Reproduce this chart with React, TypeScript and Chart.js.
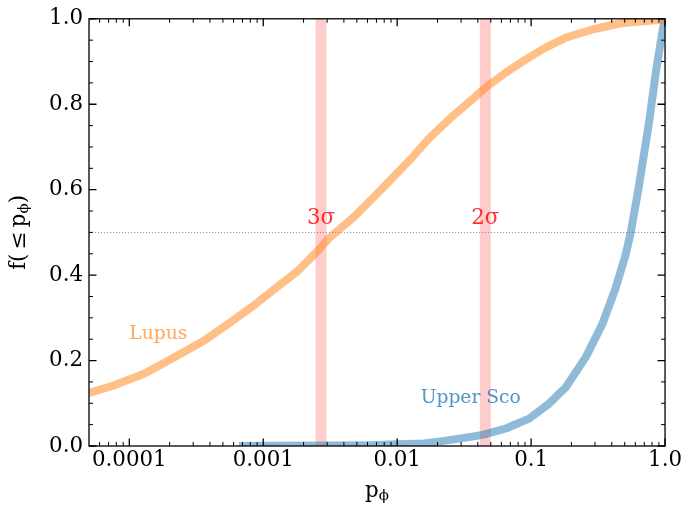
import React, { useEffect, useRef } from "react";
import { Chart, registerables } from "chart.js";

Chart.register(...registerables);

// ---------- data ----------
const lupusP = [5e-5, 7.7e-5, 1.29e-4, 2.17e-4, 3.63e-4, 5.42e-4, 8.1e-4, 1.21e-3, 1.8e-3, 2.54e-3, 3.11e-3, 4.63e-3, 6.55e-3, 9.2e-3, 0.013, 0.0173, 0.0259, 0.0365, 0.0459, 0.0647, 0.0912, 0.129, 0.182, 0.287, 0.454, 0.718, 0.955, 1.0];
const lupusF = [0.124, 0.142, 0.169, 0.208, 0.247, 0.285, 0.324, 0.367, 0.409, 0.456, 0.487, 0.533, 0.58, 0.627, 0.676, 0.72, 0.772, 0.812, 0.84, 0.874, 0.905, 0.933, 0.956, 0.975, 0.989, 0.995, 0.998, 1.0];

const uscoP = [6.6e-4, 1e-3, 3.16e-3, 6.3e-3, 0.01, 0.0158, 0.0224, 0.0316, 0.0434, 0.0647, 0.0966, 0.136, 0.182, 0.256, 0.34, 0.429, 0.508, 0.555, 0.64, 0.76, 0.853, 0.955, 1.0];
const uscoF = [0.0, 0.0005, 0.001, 0.002, 0.004, 0.006, 0.012, 0.019, 0.026, 0.041, 0.064, 0.099, 0.138, 0.208, 0.285, 0.371, 0.448, 0.5, 0.611, 0.758, 0.874, 0.97, 1.0];

const sigmaP = [0.0027, 0.0455];
const sigmaLabels = ["3σ", "2σ"];
const sigmaLabelY = 0.52;
const refLineY = 0.5;

const seriesNames = ["Lupus", "Upper Sco"];
const seriesLabelPos = [
  [1e-4, 0.25],
  [0.015, 0.1],
];

const xMin = 5e-5;
const xMax = 1.0;
const xMajor = [1e-4, 1e-3, 1e-2, 0.1, 1.0];
const xTickLabels = ["0.0001", "0.001", "0.01", "0.1", "1.0"];
const xMinor = [
  6e-5, 7e-5, 8e-5, 9e-5,
  2e-4, 3e-4, 4e-4, 5e-4, 6e-4, 7e-4, 8e-4, 9e-4,
  2e-3, 3e-3, 4e-3, 5e-3, 6e-3, 7e-3, 8e-3, 9e-3,
  0.02, 0.03, 0.04, 0.05, 0.06, 0.07, 0.08, 0.09,
  0.2, 0.3, 0.4, 0.5, 0.6, 0.7, 0.8, 0.9,
];
const yMajor = [0, 0.2, 0.4, 0.6, 0.8, 1.0];
const yTickLabels = ["0.0", "0.2", "0.4", "0.6", "0.8", "1.0"];
const yMinor = [0.05, 0.1, 0.15, 0.25, 0.3, 0.35, 0.45, 0.5, 0.55, 0.65, 0.7, 0.75, 0.85, 0.9, 0.95];

// ---------- styles ----------
const SERIF = '"DejaVu Serif", serif';
const TICK_SIZE = 21.33;
const ANN_SIZE = 18.67;
const SIGMA_SIZE = 21.33;
const ORANGE_LINE = "rgba(255,127,14,0.5)";
const BLUE_LINE = "rgba(31,119,180,0.5)";
const ORANGE_TEXT = "rgba(255,127,14,0.7)";
const BLUE_TEXT = "rgba(31,119,180,0.78)";

export default function App() {
  const ref = useRef<HTMLCanvasElement>(null);

  useEffect(() => {
    const canvas = ref.current;
    if (!canvas) return;

    const overlay = {
      id: "overlay",
      beforeDatasetsDraw(chart: any) {
        const { ctx, chartArea: a, scales } = chart;
        const x = scales.x;
        const y = scales.y;
        ctx.save();
        ctx.beginPath();
        ctx.rect(a.left, a.top, a.right - a.left, a.bottom - a.top);
        ctx.clip();
        // sigma bands
        ctx.strokeStyle = "rgba(255,0,0,0.2)";
        ctx.lineWidth = 11;
        sigmaP.forEach((p) => {
          const px = x.getPixelForValue(p);
          ctx.beginPath();
          ctx.moveTo(px, a.top);
          ctx.lineTo(px, a.bottom);
          ctx.stroke();
        });
        // dotted reference line
        const py = Math.round(y.getPixelForValue(refLineY)) + 0.5;
        ctx.strokeStyle = "rgba(120,120,120,0.75)";
        ctx.lineWidth = 1;
        ctx.setLineDash([1.2, 1.8]);
        ctx.beginPath();
        ctx.moveTo(a.left, py);
        ctx.lineTo(a.right, py);
        ctx.stroke();
        ctx.restore();
      },
      afterDatasetsDraw(chart: any) {
        const { ctx, scales } = chart;
        const x = scales.x;
        const y = scales.y;
        ctx.save();
        ctx.textBaseline = "alphabetic";
        // sigma labels
        ctx.font = `${SIGMA_SIZE}px ${SERIF}`;
        ctx.fillStyle = "rgba(255,0,0,0.8)";
        ctx.textAlign = "center";
        sigmaP.forEach((p, i) => {
          ctx.fillText(sigmaLabels[i], x.getPixelForValue(p), y.getPixelForValue(sigmaLabelY));
        });
        // series labels
        ctx.font = `${ANN_SIZE}px ${SERIF}`;
        ctx.textAlign = "left";
        const cols = [ORANGE_TEXT, BLUE_TEXT];
        seriesNames.forEach((n, i) => {
          ctx.fillStyle = cols[i];
          ctx.fillText(n, x.getPixelForValue(seriesLabelPos[i][0]), y.getPixelForValue(seriesLabelPos[i][1]));
        });
        ctx.restore();
      },
      afterDraw(chart: any) {
        const { ctx, chartArea: a, scales } = chart;
        const x = scales.x;
        const y = scales.y;
        ctx.save();
        // frame
        ctx.strokeStyle = "#000";
        ctx.lineWidth = 1.3;
        ctx.strokeRect(a.left, a.top, a.right - a.left, a.bottom - a.top);
        // ticks
        const MAJ = 7.5;
        const MIN = 4;
        const tickX = (vals: number[], len: number, lw: number) => {
          ctx.lineWidth = lw;
          vals.forEach((v) => {
            const px = x.getPixelForValue(v);
            ctx.beginPath();
            ctx.moveTo(px, a.bottom);
            ctx.lineTo(px, a.bottom - len);
            ctx.moveTo(px, a.top);
            ctx.lineTo(px, a.top + len);
            ctx.stroke();
          });
        };
        const tickY = (vals: number[], len: number, lw: number) => {
          ctx.lineWidth = lw;
          vals.forEach((v) => {
            const py = y.getPixelForValue(v);
            ctx.beginPath();
            ctx.moveTo(a.left, py);
            ctx.lineTo(a.left + len, py);
            ctx.moveTo(a.right, py);
            ctx.lineTo(a.right - len, py);
            ctx.stroke();
          });
        };
        tickX(xMajor, MAJ, 1.3);
        tickX(xMinor, MIN, 1);
        tickY(yMajor, MAJ, 1.3);
        tickY(yMinor, MIN, 1);

        // axis titles
        ctx.fillStyle = "#000";
        ctx.textBaseline = "alphabetic";
        ctx.textAlign = "left";
        const big = `${TICK_SIZE}px ${SERIF}`;
        const small = `15px ${SERIF}`;
        // x title
        ctx.font = big;
        const wp = ctx.measureText("p").width;
        ctx.font = small;
        const wphi = ctx.measureText("ϕ").width;
        const cx = (a.left + a.right) / 2;
        const sx = cx - (wp + wphi) / 2;
        ctx.font = big;
        ctx.fillText("p", sx, 497);
        ctx.font = small;
        ctx.fillText("ϕ", sx + wp, 500);

        // y title (rotated)
        const parts: [string, string, number][] = [
          ["f(", big, 0],
          ["\u2009≤\u2009", big, 0],
          ["p", big, 0],
          ["ϕ", small, 3],
          [")", big, 0],
        ];
        let total = 0;
        const widths = parts.map(([t, f]) => {
          ctx.font = f;
          const w = ctx.measureText(t).width;
          total += w;
          return w;
        });
        const cy = (a.top + a.bottom) / 2;
        ctx.translate(25, cy);
        ctx.rotate(-Math.PI / 2);
        let px = -total / 2;
        parts.forEach(([t, f, dy], i) => {
          ctx.font = f;
          ctx.fillText(t, px, dy);
          px += widths[i];
        });
        ctx.restore();
      },
    };

    const chart = new Chart(canvas, {
      type: "line",
      data: {
        datasets: [
          {
            label: seriesNames[0],
            data: lupusP.map((p, i) => ({ x: p, y: lupusF[i] })),
            borderColor: ORANGE_LINE,
            backgroundColor: ORANGE_LINE,
            borderWidth: 8,
            pointRadius: 0,
            borderJoinStyle: "round",
            tension: 0,
            clip: 0,
          },
          {
            label: seriesNames[1],
            data: uscoP.map((p, i) => ({ x: p, y: uscoF[i] })),
            borderColor: BLUE_LINE,
            backgroundColor: BLUE_LINE,
            borderWidth: 8,
            pointRadius: 0,
            borderJoinStyle: "round",
            tension: 0,
            clip: 0,
          },
        ],
      },
      options: {
        animation: false,
        responsive: false,
        devicePixelRatio: 1,
        layout: { padding: { top: 16, right: 18, left: 0, bottom: 0 }, autoPadding: false },
        plugins: { legend: { display: false }, tooltip: { enabled: false }, title: { display: false } },
        scales: {
          x: {
            type: "logarithmic",
            min: xMin,
            max: xMax,
            grid: { display: false, drawTicks: false },
            border: { display: false },
            afterFit: (s: any) => {
              s.height = 61;
            },
            afterBuildTicks: (s: any) => {
              s.ticks = xMajor.map((v) => ({ value: v }));
            },
            ticks: {
              autoSkip: false,
              maxRotation: 0,
              minRotation: 0,
              padding: 2,
              color: "#000",
              font: { family: SERIF, size: TICK_SIZE },
              callback: (_v: any, i: number) => xTickLabels[i],
            },
          },
          y: {
            type: "linear",
            min: 0,
            max: 1,
            grid: { display: false, drawTicks: false },
            border: { display: false },
            afterFit: (s: any) => {
              s.width = 89;
            },
            afterBuildTicks: (s: any) => {
              s.ticks = yMajor.map((v) => ({ value: v }));
            },
            ticks: {
              autoSkip: false,
              padding: 6,
              color: "#000",
              font: { family: SERIF, size: TICK_SIZE },
              callback: (_v: any, i: number) => yTickLabels[i],
            },
          },
        },
      } as any,
      plugins: [overlay],
    });

    return () => chart.destroy();
  }, []);

  return (
    <div style={{ position: "fixed", left: 0, top: 0, width: 684, height: 507, background: "#fff" }}>
      <canvas ref={ref} width={684} height={507} style={{ width: 684, height: 507, display: "block" }} />
    </div>
  );
}
